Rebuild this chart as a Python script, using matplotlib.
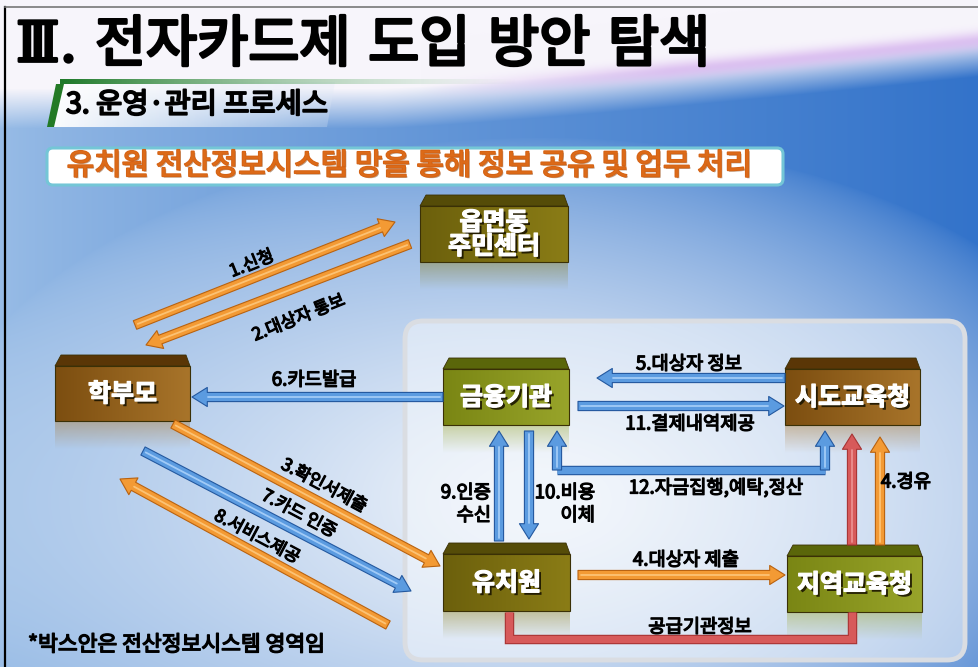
import numpy as np
import matplotlib
matplotlib.use("Agg")
import matplotlib.pyplot as plt
import matplotlib.patheffects as pe
from matplotlib.colors import to_rgb
from matplotlib.patches import FancyArrowPatch, FancyBboxPatch, Polygon

plt.rcParams["font.family"] = ["Noto Sans CJK KR", "DejaVu Sans"]

W, H = 979, 667

# ---- texts / data ----
title = "Ⅲ. 전자카드제 도입 방안 탐색"
subtitle = "3. 운영·관리 프로세스"
banner = "유치원 전산정보시스템 망을 통해 정보 공유 및 업무 처리"
footnote = "*박스안은 전산정보시스템 영역임"

node_names = ["읍면동\n주민센터", "학부모", "금융기관", "시도교육청", "유치원", "지역교육청"]
node_tones = ["olive_dark", "brown", "olive", "brown", "olive_dark", "olive"]

link_labels = ["1.신청", "2.대상자 통보", "6.카드발급", "5.대상자 정보", "11.결제내역제공",
               "3.확인서제출", "7.카드 인증", "8.서비스제공", "4.대상자 제출",
               "4.경유", "", "9.인증\n수신", "10.비용\n이체"]
link_kinds = ["orange", "orange", "blue", "blue", "blue",
              "orange", "blue", "orange", "orange",
              "orange", "red", "blue", "blue"]

path_labels = ["12.자금집행,예탁,정산", "공급기관정보"]
path_kinds = ["blue", "red"]

# ---- layout (pixel coordinates, y downwards) ----
node_boxes = [(420, 195, 568, 262), (55, 355, 190, 421), (443, 358, 569, 425),
              (785, 358, 920, 425), (443, 543, 570, 611), (787, 545, 922, 612)]

link_ends = [((135, 325), (395, 222)), ((410, 244), (146, 345)),
             ((443, 397), (192, 397)), ((785, 378), (597, 378)),
             ((578, 406), (784, 406)),
             ((173, 424), (440, 566)), ((143, 451), (411, 591)),
             ((388, 625), (120, 479)),
             ((578, 575), (785, 575)),
             ((880, 545), (880, 437)), ((852, 545), (852, 434)),
             ((499, 541), (499, 431)), ((529, 431), (529, 539))]
link_text_pos = [((251, 262, 22), 12.5), ((298, 316, 22), 12.5), ((314, 380, 0), 13.5),
                 ((689, 364, 0), 13.5), ((690, 424, 0), 13.5),
                 ((325, 484, -28), 12.5), ((300, 512, -28), 12.5), ((258, 535, -28), 12.5),
                 ((686, 560, 0), 13.5), ((906, 482, 0), 13.5), ((0, 0, 0), 0),
                 ((491, 504, 0), 13.5), ((595, 504, 0), 13.5)]

path_points = [[(557, 470), (825, 470)], [(509, 612), (509, 639), (852, 639), (852, 612)]]
path_heads = [[((557, 470), (557, 431)), ((825, 470), (825, 431))], []]
path_text_pos = [(716, 488), (700, 627)]

PALETTE = {
    "orange": ("#f39a34", "#b9620f", "#ffd08a"),
    "blue": ("#5b9be0", "#23589f", "#b9dbff"),
    "red": ("#d75a5a", "#a83434", "#f2a0a0"),
}
TONES = {
    "olive_dark": ("#554c08", "#6c600c", "#8a7c16"),
    "olive": ("#5a660a", "#7a8614", "#98a42a"),
    "brown": ("#5a3606", "#7c4e10", "#a8742a"),
}


def heavy(color, w):
    return [pe.Stroke(linewidth=w, foreground=color), pe.Normal()]


def background():
    yy, xx = np.mgrid[0:H, 0:W].astype(float)
    dark = np.array(to_rgb("#3373ca"))
    light = np.array(to_rgb("#98bce6"))
    white = np.array(to_rgb("#eef3fa"))
    t = np.clip(xx / W, 0, 1) ** 0.8
    img = light * (1 - t)[..., None] + dark * t[..., None]
    d = np.hypot((xx - 540) / 560, (yy - 500) / 330)
    g = np.clip(1.1 - d, 0, 1) ** 0.7
    img = img * (1 - g[..., None]) + white * g[..., None]
    # white upper area with a purple swoosh
    yc = 88 - 52 * np.clip((xx - 380) / 600, 0, 1) ** 1.2
    top = np.clip((yy - yc) / 40, 0, 1)
    topcol = np.array(to_rgb("#f7f5fb"))
    img = topcol * (1 - top)[..., None] + img * top[..., None]
    band = np.exp(-((yy - yc - 4) / 9) ** 2) * np.clip((xx - 420) / 250, 0, 1)
    purple = np.array(to_rgb("#d9b8ef"))
    img = img * (1 - 0.8 * band[..., None]) + purple * 0.8 * band[..., None]
    return np.clip(img, 0, 1)


def gradient_rect(ax, x0, y0, x1, y1, c0, c1, horizontal=True, alpha=(1, 1), zorder=3):
    n = 64
    s = np.linspace(0, 1, n)
    a, b = np.array(to_rgb(c0)), np.array(to_rgb(c1))
    cols = a * (1 - s)[:, None] + b * s[:, None]
    al = alpha[0] * (1 - s) + alpha[1] * s
    rgba = np.concatenate([cols, al[:, None]], axis=1)
    arr = rgba[None, :, :] if horizontal else rgba[:, None, :]
    return ax.imshow(arr, extent=(x0, x1, y1, y0), aspect="auto", interpolation="bilinear",
                     zorder=zorder)


def draw_node(ax, box, name, tone):
    x0, y0, x1, y1 = box
    top_c, left_c, right_c = TONES[tone]
    depth = 11
    gradient_rect(ax, x0, y0 + depth, x1, y1, left_c, right_c)
    ax.add_patch(Polygon([(x0, y0 + depth), (x1, y0 + depth), (x1, y1), (x0, y1)],
                         closed=True, fill=False, edgecolor="#3a3006", linewidth=0.8, zorder=3.1))
    ax.add_patch(Polygon([(x0 + 6, y0), (x1 - 4, y0), (x1, y0 + depth), (x0, y0 + depth)],
                         closed=True, facecolor=top_c, edgecolor="#3a3006", linewidth=0.6, zorder=3.2))
    # faint reflection
    gradient_rect(ax, x0, y1, x1, y1 + 28, right_c, right_c, horizontal=False,
                  alpha=(0.4, 0.0), zorder=2.5)
    ax.text((x0 + x1) / 2, (y0 + depth + y1) / 2 + 1, name, ha="center", va="center",
            fontsize=18, fontweight="bold", color="white", linespacing=1.0, zorder=5,
            path_effects=[pe.withSimplePatchShadow(offset=(1.8, -1.8), shadow_rgbFace="#1a1400", alpha=0.9),
                          pe.Stroke(linewidth=0.9, foreground="white"), pe.Normal()])


def draw_arrow(ax, p0, p1, kind, z=4):
    face, edge, hi = PALETTE[kind]
    ax.add_patch(FancyArrowPatch(p0, p1, arrowstyle="simple,head_width=1.25,head_length=1.0,tail_width=0.6",
                                 mutation_scale=11, facecolor=face, edgecolor=edge, linewidth=0.8,
                                 shrinkA=0, shrinkB=0, zorder=z))
    v = np.subtract(p1, p0).astype(float)
    L = np.hypot(*v)
    u = v / L
    q0 = np.add(p0, u * 3)
    q1 = np.subtract(p1, u * 16)
    ax.plot([q0[0], q1[0]], [q0[1], q1[1]], color=hi, lw=1.3, alpha=0.75,
            solid_capstyle="round", zorder=z + 0.1)


def draw_path(ax, pts, heads, kind):
    face, edge, hi = PALETTE[kind]
    xs, ys = zip(*pts)
    ax.plot(xs, ys, color=face, lw=5.2, solid_joinstyle="miter", solid_capstyle="butt", zorder=3.9,
            path_effects=[pe.Stroke(linewidth=6.8, foreground=edge), pe.Normal()])
    for p0, p1 in heads:
        draw_arrow(ax, p0, p1, kind)


def main():
    fig = plt.figure(figsize=(W / 100, H / 100), dpi=100)
    ax = fig.add_axes([0, 0, 1, 1])
    ax.set_xlim(0, W)
    ax.set_ylim(H, 0)
    ax.axis("off")

    ax.imshow(background(), extent=(0, W, H, 0), aspect="auto", zorder=0)
    ax.plot([5, 5], [7, H], color="black", lw=1.6, zorder=10)
    ax.plot([5, W], [7, 7], color="#777777", lw=1.2, zorder=10)

    # title
    ax.text(16, 46, title, ha="left", va="center", fontsize=40, color="black", zorder=6,
            family=["DejaVu Serif", "Noto Sans CJK KR"], path_effects=heavy("black", 2.2))

    # subtitle plate
    plate = Polygon([(62, 82), (335, 82), (327, 127), (50, 127)], closed=True, facecolor="none",
                    edgecolor="none")
    ax.add_patch(plate)
    im = gradient_rect(ax, 50, 82, 340, 127, "#ffffff", "#dfe9f6", alpha=(0.97, 0.25), zorder=2)
    im.set_clip_path(plate)
    gradient_rect(ax, 60, 79, 520, 84, "#1f7a2a", "#9ad0a0", alpha=(1, 0), zorder=2.2)
    ax.add_patch(Polygon([(56, 84), (64, 84), (54, 127), (47, 127)], closed=True,
                         facecolor="#237a26", edgecolor="none", zorder=2.3))
    ax.text(66, 105, subtitle, ha="left", va="center", fontsize=20.5, color="black", zorder=6,
            path_effects=heavy("black", 1.4))

    # banner box
    ax.add_patch(FancyBboxPatch((47, 148), 736, 37, boxstyle="round,pad=0,rounding_size=6",
                                facecolor="white", edgecolor="#74c6d6", linewidth=2.2, zorder=2))
    ax.text(410, 166, banner, ha="center", va="center", fontsize=21.5, color="#dc6a18", zorder=6,
            path_effects=[pe.withSimplePatchShadow(offset=(1, -1), shadow_rgbFace="#7a3a08", alpha=0.5),
                          pe.Stroke(linewidth=1.3, foreground="#d46214"), pe.Normal()])

    # system area
    ax.add_patch(FancyBboxPatch((405, 321), 560, 339, boxstyle="round,pad=0,rounding_size=18",
                                facecolor="#f3f7fc", edgecolor="none", alpha=0.55, zorder=1))
    ax.add_patch(FancyBboxPatch((405, 321), 560, 339, boxstyle="round,pad=0,rounding_size=18",
                                facecolor="none", edgecolor="#dadde2", linewidth=3.5, zorder=1.1))

    for box, name, tone in zip(node_boxes, node_names, node_tones):
        draw_node(ax, box, name, tone)

    for (p0, p1), kind in zip(link_ends, link_kinds):
        draw_arrow(ax, p0, p1, kind)

    for pts, heads, kind in zip(path_points, path_heads, path_kinds):
        draw_path(ax, pts, heads, kind)

    for label, ((x, y, rot), size) in zip(link_labels, link_text_pos):
        if not label:
            continue
        ha = "right" if "\n" in label else "center"
        va = "center_baseline" if rot else "center"
        ax.text(x, y, label, ha=ha, va=va, rotation=rot, rotation_mode="anchor",
                fontsize=size, color="black", multialignment="right",
                linespacing=1.1, zorder=7, path_effects=heavy("black", 0.9))
    for label, (x, y) in zip(path_labels, path_text_pos):
        ax.text(x, y, label, ha="center", va="center", fontsize=13.5, color="black", zorder=7,
                path_effects=heavy("black", 0.9))

    ax.text(28, 645, footnote, ha="left", va="center", fontsize=15.5, color="black", zorder=7,
            path_effects=heavy("black", 1.0))

    fig.savefig("out.png", dpi=100)
    plt.close(fig)


if __name__ == "__main__":
    main()
